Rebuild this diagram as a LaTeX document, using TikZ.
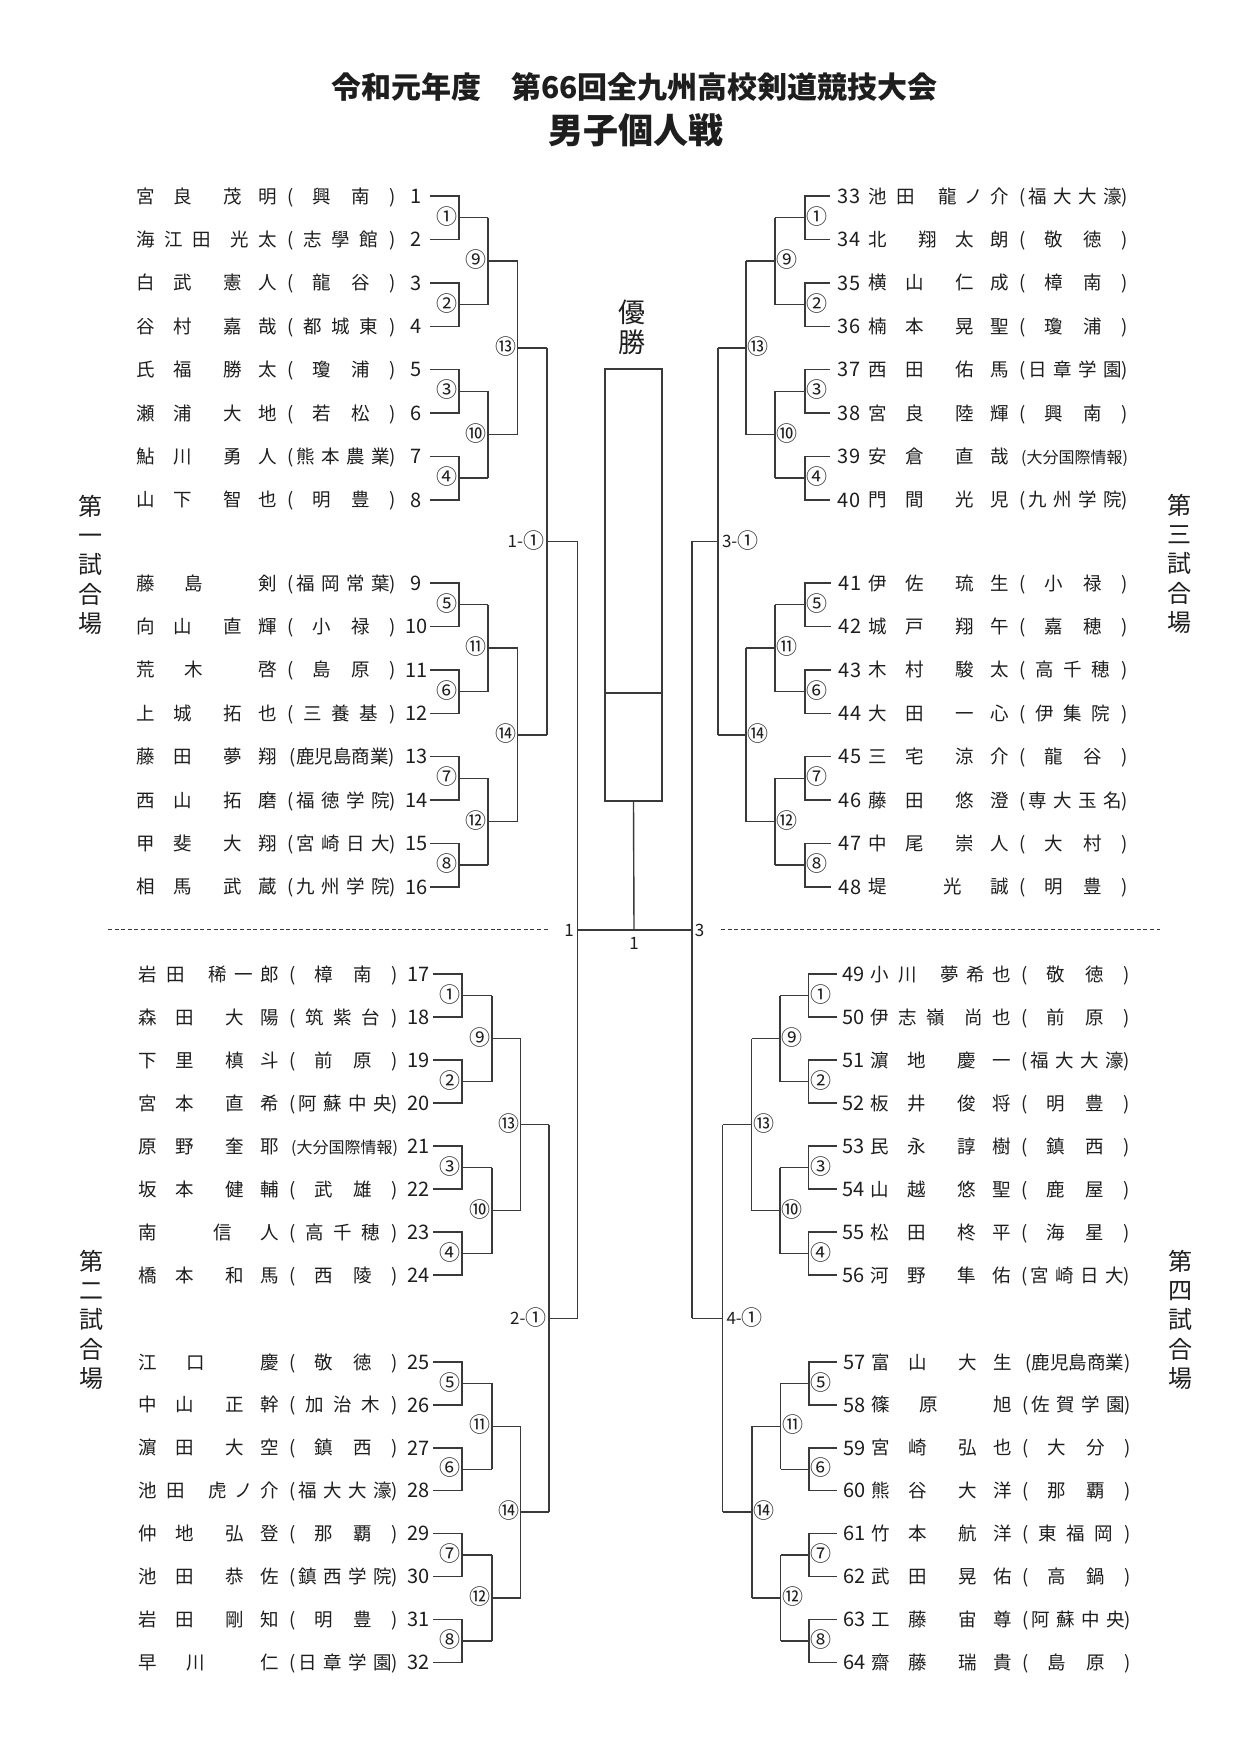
\documentclass[tikz,border=0pt]{standalone}
\usepackage{fontspec}
\setmainfont{Noto Sans CJK JP}
\definecolor{ink}{HTML}{1E1E1E}
\definecolor{ln}{HTML}{3A3A3A}
\newcommand\fs[1]{\fontsize{#1}{#1}\selectfont}
\newcommand\at[2]{\makebox[0pt][l]{\hspace*{#1pt}\makebox[0pt]{#2}}}
% name layouts (family+given), offsets of character centres
\newcommand\nAA[4]{\at{0}{#1}\at{37}{#2}\at{87}{#3}\at{122}{#4}}
\newcommand\nAB[5]{\at{0}{#1}\at{28}{#2}\at{70}{#3}\at{96}{#4}\at{122}{#5}}
\newcommand\nBA[5]{\at{0}{#1}\at{28}{#2}\at{56}{#3}\at{94}{#4}\at{122}{#5}}
\newcommand\nAo[3]{\at{0}{#1}\at{48}{#2}\at{122}{#3}}
\newcommand\noA[3]{\at{0}{#1}\at{75}{#2}\at{122}{#3}}
\newcommand\noB[4]{\at{0}{#1}\at{50}{#2}\at{87}{#3}\at{122}{#4}}
% school layouts
\newcommand\sB[2]{\at{145}{(}\at{176}{#1}\at{215}{#2}\at{247}{)}}
\newcommand\sC[3]{\at{145}{(}\at{167}{#1}\at{195}{#2}\at{223}{#3}\at{247}{)}}
\newcommand\sD[4]{\at{145}{(}\at{160}{#1}\at{185}{#2}\at{210}{#3}\at{235}{#4}\at{247}{)}}
\newcommand\sL[2]{\at{197}{\fs{#1}(#2)}}
\newcommand\cn[1]{\ifcase#1\or ①\or ②\or ③\or ④\or ⑤\or ⑥\or ⑦\or ⑧\or ⑨\or ⑩\or ⑪\or ⑫\or ⑬\or ⑭\fi}
\newcommand\cbig[1]{{\fs{21}\raisebox{-1.2pt}{#1}}}
\newcommand\prow[6]{\node[nm] (#1) at (#2,#3) {#6};\node[num] (#1n) at (#4,#3) {#5};}
% 8-player block: #1 prefix #2 y0 #3 dy #4 line end #5 v1 #6 v2 #7 v3 #8 v4 #9 label side
\newcommand\blk[9]{%
  \foreach \k in {0,1,2,3}{%
    \pgfmathsetmacro\ya{#2+2*\k*#3}%
    \pgfmathsetmacro\yb{#2+(2*\k+1)*#3}%
    \pgfmathsetmacro\ym{#2+(2*\k+0.5)*#3}%
    \pgfmathtruncatemacro\lab{\kA+\k}%
    \draw[br] (#4,\ya) -- (#5,\ya) -- (#5,\yb) -- (#4,\yb);
    \draw[br] (#5,\ym) -- (#6,\ym);
    \node[cir] (#1a\k) at ({#5+#9*12},\ym) {\cn{\lab}};
  }%
  \foreach \k in {0,1}{%
    \pgfmathsetmacro\ya{#2+(4*\k+0.5)*#3}%
    \pgfmathsetmacro\yb{#2+(4*\k+2.5)*#3}%
    \pgfmathsetmacro\ym{#2+(4*\k+1.5)*#3}%
    \pgfmathtruncatemacro\lab{\kB+\k}%
    \draw[br] (#6,\ya) -- (#6,\yb);
    \draw[br] (#6,\ym) -- (#7,\ym);
    \node[cir] (#1b\k) at ({#6+#9*12},\ym) {\cn{\lab}};
  }%
  \pgfmathsetmacro\ya{#2+1.5*#3}%
  \pgfmathsetmacro\yb{#2+5.5*#3}%
  \pgfmathsetmacro\ym{#2+3.5*#3}%
  \draw[br] (#7,\ya) -- (#7,\yb);
  \draw[br] (#7,\ym) -- (#8,\ym);
  \node[cir] (#1c) at ({#7+#9*12},\ym) {\cn{\kC}};
}
\begin{document}
\begin{tikzpicture}[x=1pt,y=-1pt,
  br/.style={draw=ln,line width=1.4pt,line join=miter},
  nm/.style={inner sep=0pt,outer sep=0pt,anchor=base west,font=\fs{18.5},yshift=-7pt,text=ink},
  num/.style={inner sep=0pt,outer sep=0pt,anchor=base,font=\fs{20},yshift=-7.2pt,text=ink},
  cir/.style={inner sep=0pt,outer sep=0pt,anchor=base,font=\fs{21},yshift=-6.6pt,text=ink},
  rlab/.style={inner sep=0pt,outer sep=0pt,font=\fs{17},yshift=-6.2pt,text=ink},
  vt/.style={inner sep=0pt,outer sep=0pt,anchor=base,font=\fs{24},yshift=-9.1pt,text=ink},
  dl/.style={draw=ln,line width=1.1pt,dash pattern=on 4pt off 2.6pt}]
\fill[white] (0,0) rectangle (1238,1751);
\useasboundingbox (0,0) rectangle (1238,1751);

% titles
\node[inner sep=0pt,anchor=base,font=\fs{30}\bfseries,yshift=-11.4pt,text=ink] (title) at (634.5,87) {令和元年度　第66回全九州高校剣道競技大会};
\node[inner sep=0pt,anchor=base,font=\fs{35}\bfseries,yshift=-13.3pt,text=ink] (sub) at (636,130) {男子個人戦};

% champion box
\node[inner sep=0pt,anchor=base,font=\fs{27},yshift=-10.2pt,text=ink] (yu) at (632,312) {優};
\node[inner sep=0pt,anchor=base,font=\fs{27},yshift=-10.2pt,text=ink] (sho) at (632,342) {勝};
\node[br,inner sep=0pt,minimum width=57pt,minimum height=432pt] (box) at (633.5,585) {};
\coordinate (boxmid-w) at (605,693);
\coordinate (boxmid-e) at (662,693);
\draw[br] (boxmid-w) -- (boxmid-e);

% venue labels
\foreach \c [count=\i from 0] in {第,一,試,合,場} \node[vt] (va\i) at (90,{506+29.3*\i}) {\c};
\foreach \c [count=\i from 0] in {第,二,試,合,場} \node[vt] (vb\i) at (91,{1261+29.3*\i}) {\c};
\foreach \c [count=\i from 0] in {第,三,試,合,場} \node[vt] (vc\i) at (1179,{505+29.3*\i}) {\c};
\foreach \c [count=\i from 0] in {第,四,試,合,場} \node[vt] (vd\i) at (1180,{1261+29.3*\i}) {\c};

% dashed separators
\coordinate (dl1) at (108,929.9); \coordinate (dl2) at (548,929.9);
\coordinate (dr1) at (721,929.9); \coordinate (dr2) at (1160,929.9);
\draw[dl] (dl1) -- (dl2);
\draw[dl] (dr1) -- (dr2);

% ===== players: upper left =====
\prow{p1}{145}{196}{416.5}{1}{\nAA{宮}{良}{茂}{明}\sB{興}{南}}
\prow{p2}{145}{239.4}{416.5}{2}{\nBA{海}{江}{田}{光}{太}\sC{志}{學}{館}}
\prow{p3}{145}{282.8}{416.5}{3}{\nAA{白}{武}{憲}{人}\sB{龍}{谷}}
\prow{p4}{145}{326.2}{416.5}{4}{\nAA{谷}{村}{嘉}{哉}\sC{都}{城}{東}}
\prow{p5}{145}{369.6}{416.5}{5}{\nAA{氏}{福}{勝}{太}\sB{瓊}{浦}}
\prow{p6}{145}{413}{416.5}{6}{\nAA{瀬}{浦}{大}{地}\sB{若}{松}}
\prow{p7}{145}{456.4}{416.5}{7}{\nAA{鮎}{川}{勇}{人}\sD{熊}{本}{農}{業}}
\prow{p8}{145}{499.8}{416.5}{8}{\nAA{山}{下}{智}{也}\sB{明}{豊}}
\prow{p9}{145}{583}{416.5}{9}{\nAo{藤}{島}{剣}\sD{福}{岡}{常}{葉}}
\prow{p10}{145}{626.4}{416.5}{10}{\nAA{向}{山}{直}{輝}\sB{小}{禄}}
\prow{p11}{145}{669.8}{416.5}{11}{\nAo{荒}{木}{啓}\sB{島}{原}}
\prow{p12}{145}{713.2}{416.5}{12}{\nAA{上}{城}{拓}{也}\sC{三}{養}{基}}
\prow{p13}{145}{756.6}{416.5}{13}{\nAA{藤}{田}{夢}{翔}\sL{18.5}{鹿児島商業}}
\prow{p14}{145}{800}{416.5}{14}{\nAA{西}{山}{拓}{磨}\sD{福}{徳}{学}{院}}
\prow{p15}{145}{843.4}{416.5}{15}{\nAA{甲}{斐}{大}{翔}\sD{宮}{崎}{日}{大}}
\prow{p16}{145}{886.8}{416.5}{16}{\nAA{相}{馬}{武}{蔵}\sD{九}{州}{学}{院}}
% ===== lower left =====
\prow{p17}{147}{974}{418.5}{17}{\nAB{岩}{田}{稀}{一}{郎}\sB{樟}{南}}
\prow{p18}{147}{1017}{418.5}{18}{\nAA{森}{田}{大}{陽}\sC{筑}{紫}{台}}
\prow{p19}{147}{1060}{418.5}{19}{\nAA{下}{里}{槙}{斗}\sB{前}{原}}
\prow{p20}{147}{1103}{418.5}{20}{\nAA{宮}{本}{直}{希}\sD{阿}{蘇}{中}{央}}
\prow{p21}{147}{1146}{418.5}{21}{\nAA{原}{野}{奎}{耶}\sL{16}{大分国際情報}}
\prow{p22}{147}{1189}{418.5}{22}{\nAA{坂}{本}{健}{輔}\sB{武}{雄}}
\prow{p23}{147}{1232}{418.5}{23}{\noA{南}{信}{人}\sC{高}{千}{穂}}
\prow{p24}{147}{1275}{418.5}{24}{\nAA{橋}{本}{和}{馬}\sB{西}{陵}}
\prow{p25}{147}{1362}{418.5}{25}{\nAo{江}{口}{慶}\sB{敬}{徳}}
\prow{p26}{147}{1404.9}{418.5}{26}{\nAA{中}{山}{正}{幹}\sC{加}{治}{木}}
\prow{p27}{147}{1447.8}{418.5}{27}{\nAA{濵}{田}{大}{空}\sB{鎮}{西}}
\prow{p28}{147}{1490.7}{418.5}{28}{\nAB{池}{田}{虎}{ノ}{介}\sD{福}{大}{大}{濠}}
\prow{p29}{147}{1533.6}{418.5}{29}{\nAA{仲}{地}{弘}{登}\sB{那}{覇}}
\prow{p30}{147}{1576.5}{418.5}{30}{\nAA{池}{田}{恭}{佐}\sD{鎮}{西}{学}{院}}
\prow{p31}{147}{1619.4}{418.5}{31}{\nAA{岩}{田}{剛}{知}\sB{明}{豊}}
\prow{p32}{147}{1662.3}{418.5}{32}{\nAo{早}{川}{仁}\sD{日}{章}{学}{園}}
% ===== upper right =====
\prow{p33}{877}{196}{849}{33}{\nAB{池}{田}{龍}{ノ}{介}\sD{福}{大}{大}{濠}}
\prow{p34}{877}{239.4}{849}{34}{\noB{北}{翔}{太}{朗}\sB{敬}{徳}}
\prow{p35}{877}{282.8}{849}{35}{\nAA{横}{山}{仁}{成}\sB{樟}{南}}
\prow{p36}{877}{326.2}{849}{36}{\nAA{楠}{本}{晃}{聖}\sB{瓊}{浦}}
\prow{p37}{877}{369.6}{849}{37}{\nAA{西}{田}{佑}{馬}\sD{日}{章}{学}{園}}
\prow{p38}{877}{413}{849}{38}{\nAA{宮}{良}{陸}{輝}\sB{興}{南}}
\prow{p39}{877}{456.4}{849}{39}{\nAA{安}{倉}{直}{哉}\sL{16}{大分国際情報}}
\prow{p40}{877}{499.8}{849}{40}{\nAA{門}{間}{光}{児}\sD{九}{州}{学}{院}}
\prow{p41}{877}{583}{850}{41}{\nAA{伊}{佐}{琉}{生}\sB{小}{禄}}
\prow{p42}{877}{626.4}{850}{42}{\nAA{城}{戸}{翔}{午}\sB{嘉}{穂}}
\prow{p43}{877}{669.8}{850}{43}{\nAA{木}{村}{駿}{太}\sC{高}{千}{穂}}
\prow{p44}{877}{713.2}{850}{44}{\nAA{大}{田}{一}{心}\sC{伊}{集}{院}}
\prow{p45}{877}{756.6}{850}{45}{\nAA{三}{宅}{涼}{介}\sB{龍}{谷}}
\prow{p46}{877}{800}{850}{46}{\nAA{藤}{田}{悠}{澄}\sD{専}{大}{玉}{名}}
\prow{p47}{877}{843.4}{850}{47}{\nAA{中}{尾}{崇}{人}\sB{大}{村}}
\prow{p48}{877}{886.8}{850}{48}{\noA{堤}{光}{誠}\sB{明}{豊}}
% ===== lower right =====
\prow{p49}{879.5}{974}{853.5}{49}{\nAB{小}{川}{夢}{希}{也}\sB{敬}{徳}}
\prow{p50}{879.5}{1017}{853.5}{50}{\nBA{伊}{志}{嶺}{尚}{也}\sB{前}{原}}
\prow{p51}{879.5}{1060}{853.5}{51}{\nAA{濵}{地}{慶}{一}\sD{福}{大}{大}{濠}}
\prow{p52}{879.5}{1103}{853.5}{52}{\nAA{板}{井}{俊}{将}\sB{明}{豊}}
\prow{p53}{879.5}{1146}{853.5}{53}{\nAA{民}{永}{諄}{樹}\sB{鎮}{西}}
\prow{p54}{879.5}{1189}{853.5}{54}{\nAA{山}{越}{悠}{聖}\sB{鹿}{屋}}
\prow{p55}{879.5}{1232}{853.5}{55}{\nAA{松}{田}{柊}{平}\sB{海}{星}}
\prow{p56}{879.5}{1275}{853.5}{56}{\nAA{河}{野}{隼}{佑}\sD{宮}{崎}{日}{大}}
\prow{p57}{880.5}{1362}{854.5}{57}{\nAA{富}{山}{大}{生}\sL{18.5}{鹿児島商業}}
\prow{p58}{880.5}{1404.9}{854.5}{58}{\nAo{篠}{原}{旭}\sD{佐}{賀}{学}{園}}
\prow{p59}{880.5}{1447.8}{854.5}{59}{\nAA{宮}{崎}{弘}{也}\sB{大}{分}}
\prow{p60}{880.5}{1490.7}{854.5}{60}{\nAA{熊}{谷}{大}{洋}\sB{那}{覇}}
\prow{p61}{880.5}{1533.6}{854.5}{61}{\nAA{竹}{本}{航}{洋}\sC{東}{福}{岡}}
\prow{p62}{880.5}{1576.5}{854.5}{62}{\nAA{武}{田}{晃}{佑}\sB{高}{鍋}}
\prow{p63}{880.5}{1619.4}{854.5}{63}{\nAA{工}{藤}{宙}{尊}\sD{阿}{蘇}{中}{央}}
\prow{p64}{880.5}{1662.3}{854.5}{64}{\nAA{齋}{藤}{瑞}{貴}\sB{島}{原}}

% ===== brackets =====
\def\kA{1}\def\kB{9}\def\kC{13}
\blk{ula}{196}{43.4}{430}{459}{488}{517.5}{547}{-1}
\blk{lla}{974}{43}{433}{462}{492}{520.5}{549}{-1}
\blk{ura}{196}{43.4}{830}{805}{775}{746}{718}{1}
\blk{lra}{974}{43}{837}{808.5}{780}{751.5}{722.5}{1}
\def\kA{5}\def\kB{11}\def\kC{14}
\blk{ulb}{583}{43.4}{430}{459}{488}{517.5}{547}{-1}
\blk{llb}{1362}{42.9}{433}{462}{492}{520.5}{549}{-1}
\blk{urb}{583}{43.4}{831}{805}{775}{746}{718}{1}
\blk{lrb}{1362}{42.9}{837}{809}{780.5}{752}{722.5}{1}

% semifinal-level connectors
\coordinate (q1a) at (547,347.9); \coordinate (q1b) at (547,734.9); \coordinate (q1m) at (547,541.4);
\coordinate (q2a) at (549,1124.5); \coordinate (q2b) at (549,1512.2); \coordinate (q2m) at (549,1318.3);
\coordinate (q3a) at (718,347.9); \coordinate (q3b) at (718,734.9); \coordinate (q3m) at (718,541.4);
\coordinate (q4a) at (722.5,1124.5); \coordinate (q4b) at (722.5,1512.2); \coordinate (q4m) at (722.5,1318.3);
\coordinate (f1a) at (577.5,541.4); \coordinate (f1b) at (577.5,1318.3); \coordinate (f1m) at (577.5,929.9);
\coordinate (f3a) at (692,541.4); \coordinate (f3b) at (692,1318.3); \coordinate (f3m) at (692,929.9);
\coordinate (fc) at (634,929.9);
\draw[br] (q1a) -- (q1b); \draw[br] (q1m) -- (f1a);
\draw[br] (q2a) -- (q2b); \draw[br] (q2m) -- (f1b);
\draw[br] (q3a) -- (q3b); \draw[br] (q3m) -- (f3a);
\draw[br] (q4a) -- (q4b); \draw[br] (q4m) -- (f3b);
\draw[br] (f1a) -- (f1b);
\draw[br] (f3a) -- (f3b);
\draw[br] (f1m) -- (f3m);
\draw[br] (box.south) -- (fc);

\node[rlab,anchor=base east] (l11) at (544,541.4) {1-\cbig{①}};
\node[rlab,anchor=base east] (l21) at (546.5,1318.3) {2-\cbig{①}};
\node[rlab,anchor=base west] (l31) at (722,541.4) {3-\cbig{①}};
\node[rlab,anchor=base west] (l41) at (726.5,1318.3) {4-\cbig{①}};
\node[rlab,anchor=base] (lf1) at (569,929.9) {1};
\node[rlab,anchor=base] (lf3) at (699.5,929.9) {3};
\node[rlab,anchor=base] (lfc) at (634,943) {1};
\end{tikzpicture}
\end{document}
